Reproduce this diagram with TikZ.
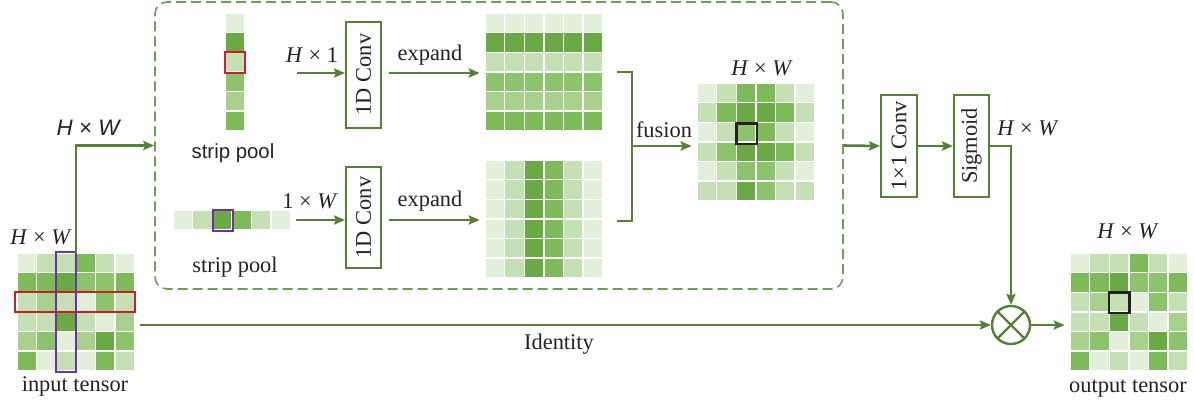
\documentclass[tikz,border=0pt]{standalone}
\usepackage{fontspec}
\usepackage{graphicx}
\setmainfont{Liberation Serif}
\setsansfont{Liberation Sans}
\usetikzlibrary{arrows.meta}

% cell shades, lightest to darkest
\definecolor{ca}{HTML}{E2EFDA}
\definecolor{cb}{HTML}{C5E0B4}
\definecolor{cc}{HTML}{A9D18E}
\definecolor{cd}{HTML}{8CC46B}
\definecolor{ce}{HTML}{7DBB58}
\definecolor{cf}{HTML}{6AAA45}
\definecolor{lineg}{HTML}{548235}
\definecolor{dashg}{HTML}{6C9F55}
\definecolor{selred}{HTML}{C8202A}
\definecolor{selpurple}{HTML}{7030A0}
\definecolor{txt}{HTML}{222222}

% draw a block of cells: #1,#2 top-left corner, #3 rows of colours
\newcommand\cellgrid[3]{%
  \foreach \rowlist [count=\ri from 0] in {#3}{%
    \foreach \cellcol [count=\ki from 0] in \rowlist{%
      \fill[fill=\cellcol] ({#1+\ki*19.6+0.7},{#2+\ri*19.6+0.7}) rectangle ++(18.2,18.2);
    }}}

\begin{document}
\begin{tikzpicture}[x=0.5pt,y=-0.5pt,
  lab/.style={text=txt,font=\fontsize{11.2}{13}\selectfont,inner sep=0pt},
  sanslab/.style={text=txt,font=\fontsize{10.2}{12}\sffamily,inner sep=0pt},
  gridbox/.style={minimum width=58.8pt,minimum height=58.8pt,inner sep=0pt},
  opbox/.style={draw=lineg,line width=1pt,fill=white,inner sep=0pt,text=txt,
    font=\fontsize{11.2}{13}\selectfont},
  arr/.style={draw=lineg,line width=1.3pt,-{Stealth[length=5.5pt,width=4.6pt,inset=1pt]}},
  link/.style={draw=lineg,line width=1.3pt},
  dashbox/.style={draw=dashg,line width=0.8pt,dash pattern=on 5pt off 2.5pt,
    rounded corners=6pt,inner sep=0pt}]
\useasboundingbox (0,0) rectangle (1194,404);

% ---- dashed frame of the strip-pooling branch
\node[dashbox,minimum width=344pt,minimum height=143.5pt] (dash) at (499,145.5) {};

% ---- input tensor
\cellgrid{17}{253}{{ca,cb,cb,ce,cb,ca},{ce,ce,cf,cd,cd,ce},{cb,cc,cb,ca,cd,cb},
  {cb,cb,cf,cb,ca,cc},{cc,cd,ca,cc,cf,cd},{ce,ca,cb,ca,ce,cb}}
\node[gridbox] (inp) at (75.8,311.8) {};
\draw[selred,line width=1pt] (15,291.5) rectangle (135,312);
\draw[selpurple,line width=1pt] (55.5,252) rectangle (76,372);
\node[lab] (inplab) at (41,237) {\textit{H} × \textit{W}};
\node[lab] (inpname) at (75,386) {input tensor};

% ---- vertical strip (H x 1)
\cellgrid{225}{13}{{ca},{cf},{cb},{cd},{cc},{ce}}
\node[minimum width=9.8pt,minimum height=58.8pt,inner sep=0pt] (vstrip) at (234.8,71.8) {};
\draw[selred,line width=1pt] (224.5,52) rectangle (245,73);
\node[sanslab] (vname) at (233,153) {strip pool};

% ---- horizontal strip (1 x W)
\cellgrid{173}{210.5}{{ca,cb,cf,ce,cb,ca}}
\node[minimum width=58.8pt,minimum height=9.8pt,inner sep=0pt] (hstrip) at (231.8,220.3) {};
\draw[selpurple,line width=1pt] (212.5,210) rectangle (233,231);
\node[lab] (hname) at (235,267) {strip pool};

% ---- 1D convolutions
\node[opbox,minimum width=17.5pt,minimum height=53pt] (conv1) at (363.5,74.5) {\rotatebox{90}{1D Conv}};
\node[opbox,minimum width=17.5pt,minimum height=50.5pt] (conv2) at (363.5,217.5) {\rotatebox{90}{1D Conv}};
\coordinate (in1) at (297,73);
\coordinate (in2) at (296,220);
\draw[arr] (in1) -- (in1 -| conv1.west);
\draw[arr] (in2) -- (in2 -| conv2.west);
\node[lab] (hx1) at (312,55) {\textit{H} × 1};
\node[lab] (oxw) at (310,201) {1 × \textit{W}};

% ---- expanded maps
\cellgrid{485}{13}{{ca,ca,ca,ca,ca,ca},{cf,cf,cf,cf,cf,cf},{cb,cb,cb,cb,cb,cb},
  {cd,cd,cd,cd,cd,cd},{cc,cc,cc,cc,cc,cc},{ce,ce,ce,ce,ce,ce}}
\node[gridbox] (exp1) at (543.8,71.8) {};
\cellgrid{485}{160}{{ca,cb,cf,ce,cb,ca},{ca,cb,cf,ce,cb,ca},{ca,cb,cf,ce,cb,ca},
  {ca,cb,cf,ce,cb,ca},{ca,cb,cf,ce,cb,ca},{ca,cb,cf,ce,cb,ca}}
\node[gridbox] (exp2) at (543.8,218.8) {};
\draw[arr,shorten <=3.5pt,shorten >=2.5pt] (conv1.east |- in1) -- (in1 -| exp1.west);
\draw[arr,shorten <=3.5pt,shorten >=2.5pt] (conv2.east |- in2) -- (in2 -| exp2.west);
\node[lab] (ex1) at (430,55) {expand};
\node[lab] (ex2) at (430,201) {expand};

% ---- fusion bracket
\coordinate (bt0) at (617,72);
\coordinate (bt1) at (632,72);
\coordinate (bb1) at (632,221);
\coordinate (bb0) at (617,221);
\coordinate (bm) at (632,146);
\draw[link,line join=miter] (bt0) -- (bt1) -- (bb1) -- (bb0);

% ---- fused map
\cellgrid{697}{83}{{ca,cb,ce,ce,cb,ca},{cb,ce,cf,cf,ce,cb},{ca,cb,cd,ce,cb,ca},
  {cb,cd,cf,cf,ce,cb},{ca,cb,cd,cd,cb,ca},{cb,cb,cf,cd,cb,cb}}
\node[gridbox] (fus) at (755.8,141.8) {};
\draw[txt,line width=1.2pt] (736.5,123.5) rectangle (757,144);
\draw[arr,shorten >=2.5pt] (bm) -- (bm -| fus.west);
\node[lab] (fuslab) at (664,129.5) {fusion};
\node[lab] (fushw) at (762,68) {\textit{H} × \textit{W}};

% ---- input to the branch
\draw[arr] (inp.north) |- (dash.west);
\node[lab,font=\fontsize{11.2}{13}\sffamily\itshape] (toplab) at (88,128) {H × W};

% ---- 1x1 conv and sigmoid
\node[opbox,minimum width=18pt,minimum height=51pt] (conv3) at (899,146) {\rotatebox{90}{1×1 Conv}};
\node[opbox,minimum width=17.5pt,minimum height=51pt] (sig) at (971.5,146) {\rotatebox{90}{Sigmoid}};
\draw[arr] (dash.east) -- (conv3.west);
\draw[arr] (conv3.east) -- (sig.west);
\node[lab] (sighw) at (1028,128) {\textit{H} × \textit{W}};

% ---- multiplication
\node[circle,draw=lineg,line width=1.2pt,minimum size=19pt,inner sep=0pt] (ot) at (1011,325) {};
\draw[lineg,line width=1.2pt] (ot.north east) -- (ot.south west) (ot.north west) -- (ot.south east);
\draw[arr] (sig.east) -| (ot.north);
\coordinate (idstart) at (140,325);
\draw[arr] (idstart) -- (ot.west);
\node[lab] (idlab) at (559,344) {Identity};

% ---- output tensor
\cellgrid{1070}{253}{{ca,cb,cb,ce,cb,ca},{ce,ce,cf,cd,cd,ce},{cb,cc,cb,ca,cd,cb},
  {cb,cb,cf,cb,ca,cc},{cc,cd,ca,cc,cf,cd},{ce,ca,cb,ca,ce,cb}}
\node[gridbox] (out) at (1128.8,311.8) {};
\draw[txt,line width=1.2pt] (1109,292.5) rectangle (1129.5,313);
\draw[arr,shorten >=2.5pt] (ot.east) -- (ot.east -| out.west);
\node[lab] (outhw) at (1128,231) {\textit{H} × \textit{W}};
\node[lab] (outname) at (1128,389) {output tensor};
\end{tikzpicture}
\end{document}
